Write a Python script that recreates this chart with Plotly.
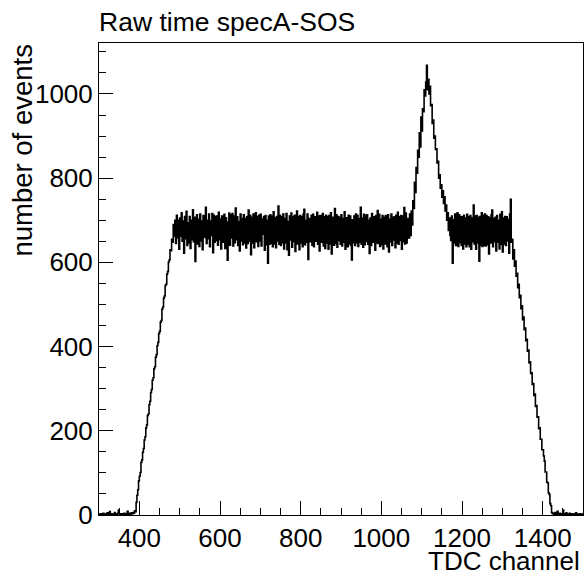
import numpy as np
import plotly.graph_objects as go

# ---- data: counts per 2-channel bin ----
x_start = 300
bin_width = 2

low_left = [2, 1, 3, 0, 2, 4, 1, 2, 0, 3, 5, 2, 1, 8, 2, 3, 1, 0, 2, 6,
            3, 1, 2, 4, 12, 3, 2, 1, 3, 2, 0, 4, 2, 3, 1, 9, 2, 4, 3, 2,
            5, 3, 6, 4, 10]

rise = [8, 30, 47, 60, 81, 92, 101, 125, 131, 149, 158, 178, 186, 207, 214,
        236, 240, 262, 270, 291, 298, 320, 326, 347, 352, 375, 381, 402, 410,
        431, 436, 458, 462, 489, 494, 515, 520, 545, 548, 572, 578, 601, 606,
        630, 628, 655, 648, 690, 662]

plateau_left = [
    700, 645, 712, 658, 700, 631, 705, 662, 718, 650, 698, 622, 709, 656, 721, 640, 694,
    646, 709, 633, 700, 654, 725, 649, 707, 602, 691, 713, 644, 702, 638, 715, 651, 698,
    630, 711, 659, 702, 731, 645, 700, 656, 715, 637, 698, 664, 716, 623, 712, 648, 709,
    652, 710, 641, 719, 654, 703, 632, 710, 648, 705, 714, 633, 706, 650, 605, 696, 717,
    641, 713, 658, 716, 639, 710, 647, 729, 654, 708, 640, 697, 627, 715, 651, 704, 642,
    713, 646, 704, 634, 709, 645, 724, 650, 712, 618, 707, 646, 715, 635, 701, 718, 649,
    709, 638, 712, 651, 714, 639, 703, 667, 709, 629, 711, 642, 700, 598, 710, 643, 713,
    645, 710, 637, 720, 644, 706, 635, 709, 651, 734, 643, 712, 640, 708, 647, 715, 632,
    704, 646, 716, 630, 697, 617, 710, 653, 717, 636, 708, 649, 712, 626, 703, 722, 644,
    709, 630, 711, 646, 708, 637, 715, 726, 642, 700, 648, 715, 607, 704, 649, 703, 712,
    641, 714, 637, 708, 650, 702, 719, 643, 710, 627, 711, 648, 706, 716, 639, 708, 633,
    712, 646, 709, 631, 711, 644, 718, 620, 701, 707, 641, 728, 645, 713, 636, 709, 652,
    707, 643, 713, 639, 704, 648, 720, 631, 706, 703, 637, 712, 644, 710, 640, 606, 701,
    647, 710, 640, 715, 647, 712, 638, 704, 648, 731, 643, 705, 636, 714, 642, 712, 650,
    713, 643, 700, 621, 705, 640, 716, 648, 707, 708, 629, 711, 646, 723, 645, 714, 638,
    702, 642, 711, 632, 707, 644, 711, 706, 637, 713, 625, 702, 649, 715, 640, 707, 653,
    708, 635, 712, 646, 719, 643, 708, 652, 711, 631, 710, 649, 730, 644, 717, 646, 704,
]

peak = [700, 658, 715, 664, 722, 689, 746, 728, 790, 766, 825, 812, 866, 850,
        908, 874, 945, 912, 965, 958, 1010, 995, 1028, 1068, 1010, 1035, 1000,
        1018, 972, 975, 930, 938, 895, 900, 868, 870, 836, 840, 800, 808, 776,
        784, 755, 770, 740, 756, 722, 736, 700, 718, 676, 705, 664]

plateau_right = [
    652, 710, 598, 701, 646, 715, 640, 706, 718, 638, 713, 647, 709, 640, 708, 632, 712, 644, 705,
    637, 714, 643, 708, 637, 711, 631, 705, 649, 736, 644, 710, 631, 711, 646, 707, 603, 709, 640,
    718, 638, 712, 640, 715, 639, 711, 642, 708, 620, 706, 646, 713, 724, 637, 704, 649, 707, 627,
    711, 648, 700, 632, 714, 643, 720, 625, 705, 644, 709, 640, 708, 651, 702, 622, 715, 750, 648,
]

fall = [655, 608, 630, 591, 603, 567, 574, 540, 548, 516, 522, 490, 497, 464,
        470, 440, 444, 414, 417, 389, 392, 361, 364, 336, 338, 310, 312, 284,
        287, 258, 260, 232, 233, 205, 207, 180, 180, 155, 155, 140, 128, 102,
        102, 78, 76, 53, 49, 27, 22, 6, 3]

low_right = [4, 2, 6, 1, 3, 9, 2, 1, 4, 2, 0, 3, 12, 2, 1, 3, 5, 2, 0, 1,
             4, 2, 3, 1, 0, 2, 3, 1, 5, 2, 0, 1, 2, 3, 1, 0, 2]

x_tick_vals = [400, 600, 800, 1000, 1200, 1400]
y_tick_vals = [0, 200, 400, 600, 800, 1000]

title_text = "Raw time specA-SOS"
x_title = "TDC channel"
y_title = "number of events"

counts = low_left + rise + plateau_left + peak + plateau_right + fall + low_right
n = len(counts)
edges = x_start + bin_width * np.arange(n + 1)
y_step = counts + [counts[-1]]

FONT = "Liberation Sans, Arial, Helvetica, sans-serif"

fig = go.Figure()
fig.add_trace(go.Scatter(
    x=edges, y=y_step, mode="lines", line_shape="hv",
    line=dict(color="black", width=1.6), hoverinfo="skip", showlegend=False,
))

axis_common = dict(
    showgrid=False, zeroline=False, showline=True, linecolor="black",
    linewidth=1, mirror=True, ticks="inside", ticklen=14, tickwidth=1,
    tickcolor="black", tickfont=dict(family=FONT, size=26, color="black"),
)

fig.update_xaxes(range=[300, 1500], tickvals=x_tick_vals,
                 minor=dict(ticks="inside", dtick=50, tick0=0, ticklen=7,
                            tickcolor="black", tickwidth=1),
                 **axis_common)
fig.update_yaxes(range=[0, 1121], tickvals=y_tick_vals,
                 minor=dict(ticks="inside", dtick=50, tick0=0, ticklen=7,
                            tickcolor="black", tickwidth=1),
                 **axis_common)

fig.add_annotation(text=title_text, xref="paper", yref="paper",
                   x=-0.004, y=1.045, xanchor="left", yanchor="middle",
                   showarrow=False, font=dict(family=FONT, size=26.5, color="black"))
fig.add_annotation(text=x_title, xref="paper", yref="paper",
                   x=0.998, y=-0.097, xanchor="right", yanchor="middle",
                   showarrow=False, font=dict(family=FONT, size=26, color="black"))
fig.add_annotation(text=y_title, xref="paper", yref="paper",
                   x=-0.16, y=1.0, xanchor="center", yanchor="top",
                   textangle=-90, showarrow=False,
                   font=dict(family=FONT, size=27.5, color="black"))

fig.update_layout(
    width=584, height=577,
    margin=dict(l=99, r=1, t=43, b=62, pad=0),
    paper_bgcolor="white", plot_bgcolor="white",
    font=dict(family=FONT, color="black"),
)

fig.write_html("out.html", config={"displayModeBar": False},
               post_script="document.body.style.margin='0';document.body.style.overflow='hidden';")
